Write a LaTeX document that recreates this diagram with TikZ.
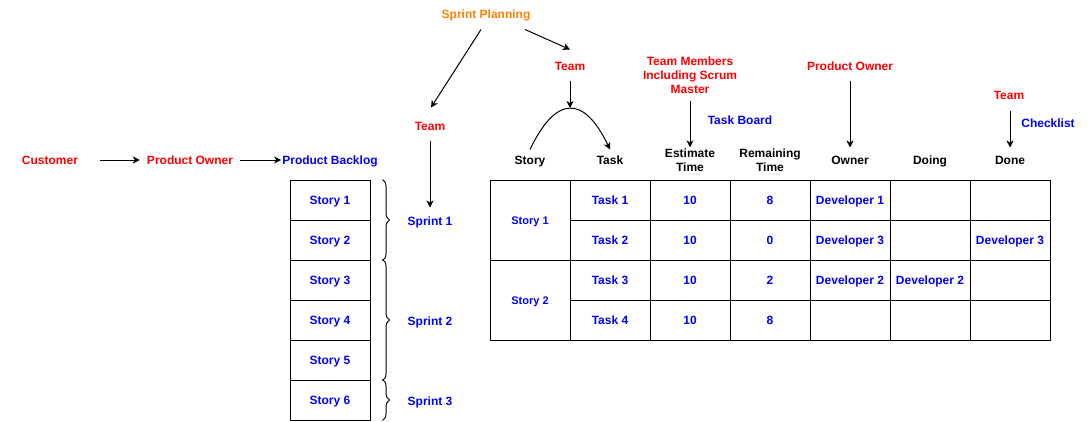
\documentclass[tikz,border=0pt]{standalone}
\usepackage{fontspec}
\setmainfont{Liberation Sans}
\usetikzlibrary{arrows.meta, decorations.pathreplacing, calc}
\definecolor{actorcol}{RGB}{255,0,0}
\definecolor{itemcol}{RGB}{0,0,255}
\definecolor{plancol}{RGB}{255,128,0}
\tikzset{
  lbl/.style={font=\bfseries\fontsize{12}{14}\selectfont, inner sep=1pt},
  one/.style={lbl, text height=8.6pt, text depth=0pt},
  actor/.style={one, text=actorcol},
  item/.style={one, text=itemcol},
  head/.style={one, text=black},
  multi/.style={lbl, align=center},
  cell/.style={draw, line width=1pt, minimum width=80pt, minimum height=40pt,
    inner sep=0pt, text height=8.6pt, text depth=0pt,
    font=\bfseries\fontsize{12}{14}\selectfont, text=itemcol},
  flow/.style={-{Stealth[length=7pt, width=7pt, inset=2pt]}, line width=1pt},
  sprintbrace/.style={decorate, decoration={brace, amplitude=7pt}, line width=1pt}
}

\begin{document}
\begin{tikzpicture}[x=1pt, y=-1pt]

  \useasboundingbox (0,0) rectangle (1091,421);

  % --- who feeds the backlog ----------------------------------------------
  \node[actor] (cust)    at (50,160)  {Customer};
  \node[actor] (po)      at (190,160) {Product Owner};
  \node[item]  (backlog) at (330,160) {Product Backlog};
  \draw[flow, shorten <=21pt, shorten >=6pt] (cust) -- (po);
  \draw[flow, shorten <=6pt] (po) -- (backlog);

  % --- product backlog, one box per story ---------------------------------
  \node[cell] (st1) at (330,200) {Story 1};
  \node[cell] (st2) at (330,240) {Story 2};
  \node[cell] (st3) at (330,280) {Story 3};
  \node[cell] (st4) at (330,320) {Story 4};
  \node[cell] (st5) at (330,360) {Story 5};
  \node[cell] (st6) at (330,400) {Story 6};

  % --- sprints, grouping the stories --------------------------------------
  \draw[sprintbrace] ($(st1.north east)+(12,0)$) -- ($(st2.south east)+(12,0)$);
  \draw[sprintbrace] ($(st3.north east)+(12,0)$) -- ($(st5.south east)+(12,0)$);
  \draw[sprintbrace] ($(st6.north east)+(12,0)$) -- ($(st6.south east)+(12,0)$);
  \node[item] (spr1) at (430,221) {Sprint 1};
  \node[item] (spr2) at (430,321) {Sprint 2};
  \node[item] (spr3) at (430,401) {Sprint 3};

  % --- sprint planning ----------------------------------------------------
  \node[one, text=plancol] (plan) at (486,14) {Sprint Planning};
  \node[actor] (teamA) at (430,126) {Team};
  \node[actor] (teamB) at (570,66)  {Team};
  \draw[flow] ($(plan.south)+(-5,10)$) -- ($(teamA.north)+(1,-13)$);
  \draw[flow] ($(plan.south)+(39,10)$) -- ($(teamB.north)+(0,-11)$);
  \draw[flow, shorten <=9pt, shorten >=8pt] (teamA) -- (spr1);

  % --- story split into tasks ---------------------------------------------
  \coordinate (apex) at (570,108);
  \node[head] (hStory) at (530,160) {Story};
  \node[head] (hTask)  at (610,160) {Task};
  \draw[flow, shorten <=9pt] (teamB) -- (apex);
  \draw[flow] ($(hStory.north)+(0,-5)$)
    .. controls ($(apex)+(-14,-13)$) and ($(apex)+(14,-13)$) .. ($(hTask.north)+(0,-5)$);

  % --- task board headers and who fills them ------------------------------
  \node[multi, text=actorcol] (members) at (690,75) {Team Members\\Including Scrum\\Master};
  \node[multi, text=black] (hEst) at (690,160) {Estimate\\Time};
  \node[multi, text=black] (hRem) at (770,160) {Remaining\\Time};
  \node[item]  (board)  at (740,120)  {Task Board};
  \node[actor] (po2)    at (850,66)   {Product Owner};
  \node[head]  (hOwner) at (850,160)  {Owner};
  \node[head]  (hDoing) at (930,160)  {Doing};
  \node[head]  (hDone)  at (1010,160) {Done};
  \node[actor] (teamC)  at (1009,95)  {Team};
  \node[item]  (check)  at (1048,123) {Checklist};
  \draw[flow, shorten <=6pt] (members) -- (hEst);
  \draw[flow, shorten <=9pt, shorten >=7pt] (po2) -- (hOwner);
  \draw[flow, shorten <=10pt, shorten >=7pt] (teamC.south -| hDone) -- (hDone.north);

  % --- task board ---------------------------------------------------------
  \node[cell, minimum height=80pt, font=\bfseries\fontsize{11}{13}\selectfont] (ts1) at (530,220) {Story 1};
  \node[cell, minimum height=80pt, font=\bfseries\fontsize{11}{13}\selectfont] (ts2) at (530,300) {Story 2};

  \node[cell] (t1) at (610,200) {Task 1};  \node[cell] (e1) at (690,200) {10};
  \node[cell] (r1) at (770,200) {8};       \node[cell] (o1) at (850,200) {Developer 1};
  \node[cell] (g1) at (930,200) {};        \node[cell] (d1) at (1010,200) {};

  \node[cell] (t2) at (610,240) {Task 2};  \node[cell] (e2) at (690,240) {10};
  \node[cell] (r2) at (770,240) {0};       \node[cell] (o2) at (850,240) {Developer 3};
  \node[cell] (g2) at (930,240) {};        \node[cell] (d2) at (1010,240) {Developer 3};

  \node[cell] (t3) at (610,280) {Task 3};  \node[cell] (e3) at (690,280) {10};
  \node[cell] (r3) at (770,280) {2};       \node[cell] (o3) at (850,280) {Developer 2};
  \node[cell] (g3) at (930,280) {Developer 2}; \node[cell] (d3) at (1010,280) {};

  \node[cell] (t4) at (610,320) {Task 4};  \node[cell] (e4) at (690,320) {10};
  \node[cell] (r4) at (770,320) {8};       \node[cell] (o4) at (850,320) {};
  \node[cell] (g4) at (930,320) {};        \node[cell] (d4) at (1010,320) {};

\end{tikzpicture}
\end{document}
